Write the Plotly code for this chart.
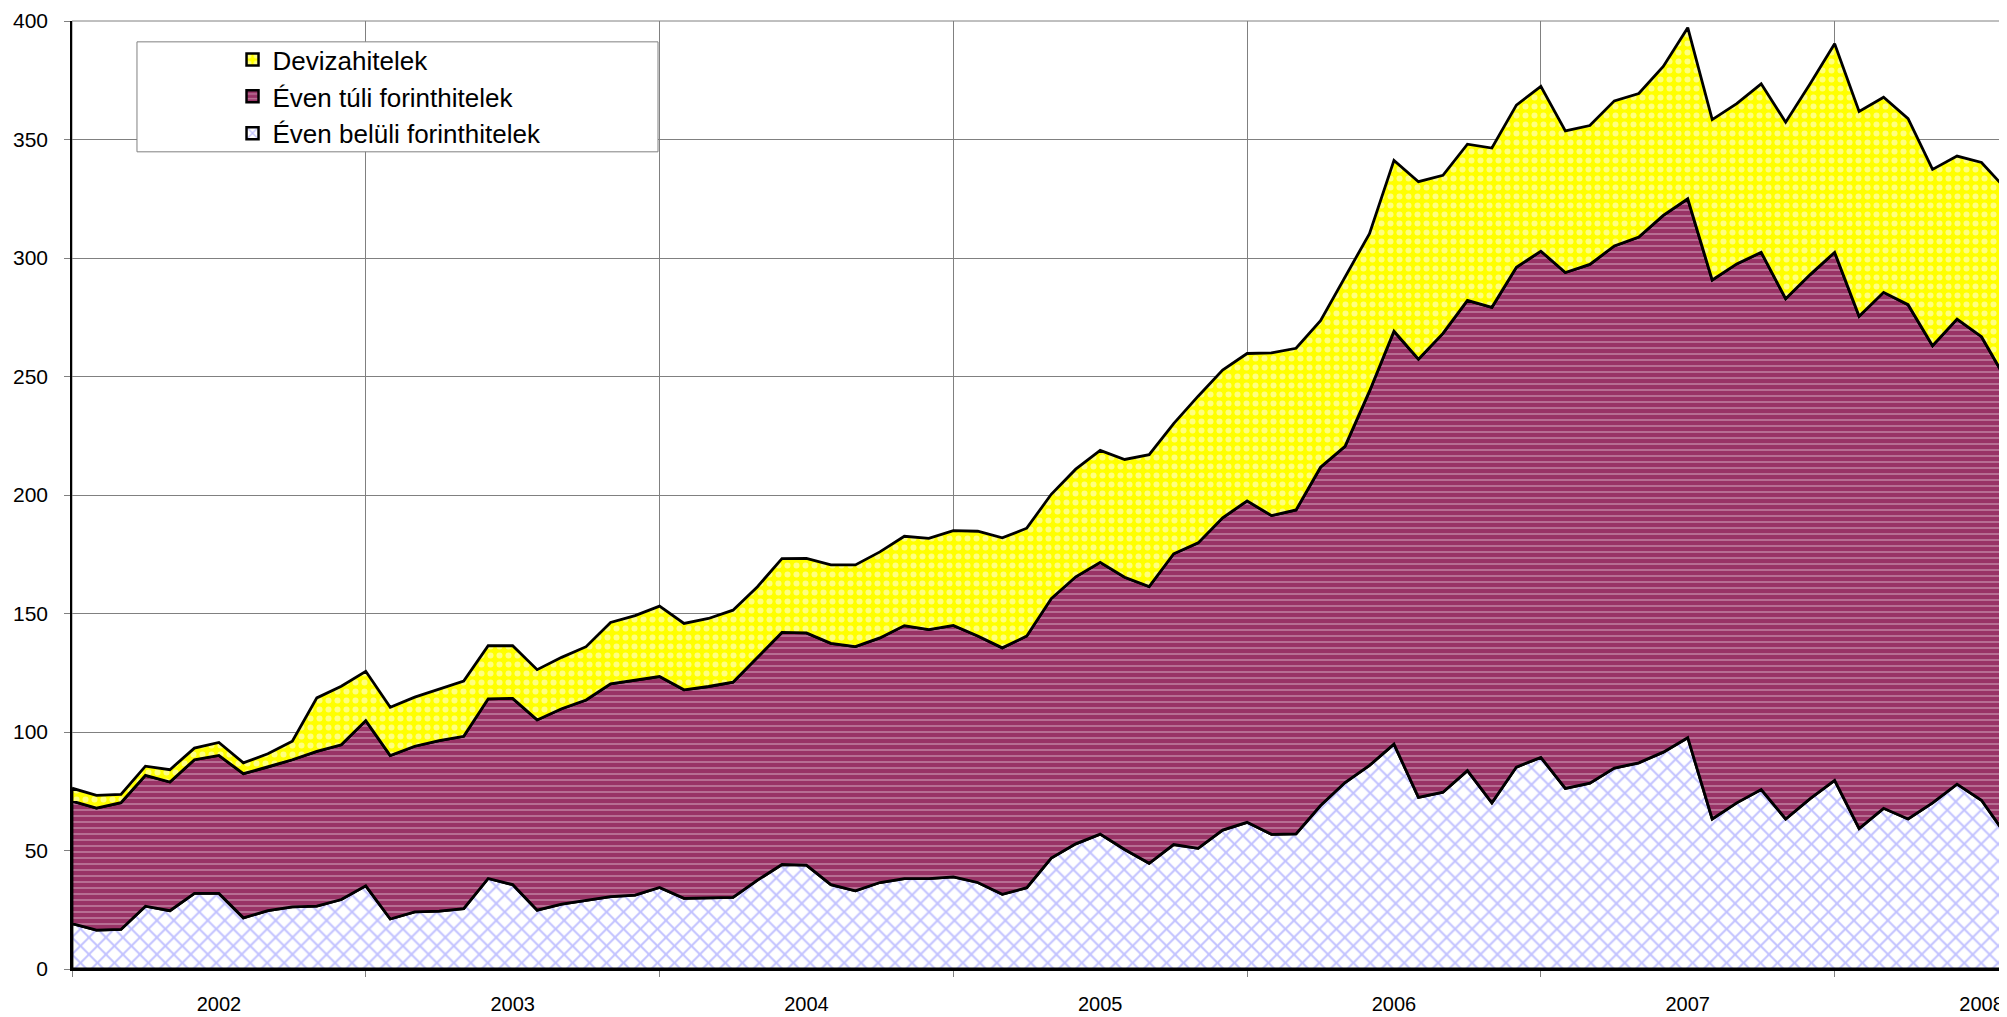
import plotly.graph_objects as go

# ---- data (monthly, 80 points) ----
months = list(range(80))
year_labels = ["2002", "2003", "2004", "2005", "2006", "2007", "2008"]
label_pos = [6, 18, 30, 42, 54, 66, 78]
grid_pos = [0, 12, 24, 36, 48, 60, 72]
y_ticks = [0, 50, 100, 150, 200, 250, 300, 350, 400]

even_beluli = [19.2, 16.4, 16.7, 26.5, 24.6, 31.9, 31.9, 21.6, 24.6, 26.2,
               26.5, 29.3, 35.1, 21.1, 24.1, 24.4, 25.5, 38.2, 35.6, 24.8,
               27.4, 28.8, 30.5, 31.2, 34.4, 29.8, 30.0, 30.2, 37.5, 44.1,
               43.8, 35.6, 33.0, 36.5, 38.1, 38.1, 38.9, 36.5, 31.5, 34.3,
               46.8, 52.8, 56.9, 50.4, 44.6, 52.5, 50.9, 58.6, 61.9, 56.8,
               57.0, 69.0, 78.7, 85.9, 94.9, 72.4, 74.6, 83.7, 70.1, 85.2,
               89.3, 76.2, 78.4, 84.8, 87.0, 91.5, 97.6, 63.3, 70.1, 75.7,
               63.3, 71.9, 79.6, 59.3, 67.8, 63.3, 70.1, 78.0, 71.2, 56.6]

even_tuli = [51.7, 51.5, 53.5, 55.2, 54.3, 56.4, 58.2, 60.8, 60.6, 62.1,
             65.3, 65.3, 69.7, 69.0, 69.9, 72.0, 72.7, 75.8, 78.6, 80.3,
             82.4, 84.7, 89.8, 90.5, 89.0, 88.0, 89.2, 90.8, 94.0, 97.9,
             98.0, 101.8, 103.0, 103.2, 106.8, 105.1, 106.1, 104.0, 104.0, 106.2,
             109.5, 112.7, 114.7, 114.9, 116.8, 122.7, 128.9, 131.8, 135.6, 134.5,
             136.7, 142.7, 141.8, 157.9, 174.2, 184.9, 193.6, 198.4, 209.1, 210.9,
             213.6, 217.7, 218.9, 220.3, 221.8, 226.5, 227.4, 227.4, 227.4, 226.7,
             219.5, 221.1, 222.8, 216.1, 217.7, 217.0, 192.9, 196.2, 195.6, 192.2]

deviza = [5.4, 5.4, 3.5, 3.9, 5.2, 4.9, 5.5, 4.6, 5.6, 7.8,
          22.6, 24.7, 20.8, 20.3, 20.7, 21.8, 23.3, 22.4, 22.2, 21.2,
          21.7, 22.5, 25.9, 27.4, 29.7, 28.0, 28.7, 30.4, 29.8, 31.2,
          31.5, 33.1, 34.5, 36.3, 37.7, 38.5, 40.0, 44.2, 46.4, 45.5,
          44.0, 45.4, 47.2, 49.7, 55.6, 54.9, 61.9, 62.3, 62.2, 68.7,
          68.2, 61.9, 71.3, 66.5, 72.1, 74.9, 66.7, 65.9, 67.2, 68.4,
          69.5, 59.7, 58.6, 61.2, 60.6, 62.8, 72.2, 67.7, 67.6, 71.1,
          74.5, 80.5, 88.0, 86.4, 82.3, 78.5, 74.4, 68.8, 73.5, 80.3]

names = ["Éven belüli forinthitelek", "Éven túli forinthitelek", "Devizahitelek"]
series = [even_beluli, even_tuli, deviza]
patterns = [
    dict(shape="x", bgcolor="#FFFFFF", fgcolor="#8585FF", size=12, solidity=0.3),
    dict(shape="-", bgcolor="#993366", fgcolor="#EBCFDD", size=6, solidity=0.25),
    dict(shape=".", bgcolor="#FFFF00", fgcolor="#FFFFFF", size=9, solidity=0.35),
]
base_colors = ["#FFFFFF", "#993366", "#FFFF00"]

FONT = "Liberation Sans, Arial, sans-serif"

fig = go.Figure()

lower = [0.0] * len(months)
for name, vals, pat, col in zip(names, series, patterns, base_colors):
    upper = [a + b for a, b in zip(lower, vals)]
    xs = months + months[::-1] + [months[0]]
    ys = upper + lower[::-1] + [upper[0]]
    fig.add_trace(go.Scatter(
        x=xs, y=ys, mode="lines", fill="toself",
        fillcolor=col, fillpattern=pat,
        line=dict(color="black", width=2.8),
        showlegend=False, hoverinfo="skip",
    ))
    lower = upper

# legend entries (top to bottom: Devizahitelek, Éven túli, Éven belüli)
for i in [2, 1, 0]:
    fig.add_trace(go.Bar(
        x=[None], y=[None], name=names[i], legendgroup=f"g{2 - i}",
        marker=dict(color=base_colors[i], pattern=patterns[i],
                    line=dict(color="black", width=2.5)),
    ))

# page body has an 8px margin; sizes/margins compensate so the plot area
# lands at x 72..2006, y 19..969 of the browser window
fig.update_layout(
    width=1999, height=1009,
    margin=dict(l=64, r=1, t=11, b=48),
    paper_bgcolor="white", plot_bgcolor="white",
    font=dict(family=FONT, size=20, color="black"),
    showlegend=True,
    legend=dict(
        x=0.083, y=0.984, xanchor="left", yanchor="top",
        bgcolor="rgba(0,0,0,0)", borderwidth=0,
        font=dict(family=FONT, size=26, color="black"),
        traceorder="grouped", tracegroupgap=0,
    ),
    shapes=[
        dict(type="rect", xref="paper", yref="paper", x0=0, x1=1, y0=0, y1=1,
             line=dict(color="#808080", width=1), layer="below"),
        dict(type="rect", xref="paper", yref="paper",
             x0=0.0336, x1=0.303, y0=0.862, y1=0.978,
             line=dict(color="#808080", width=1), fillcolor="white", layer="above"),
    ],
)

fig.update_xaxes(
    range=[0, 79], tickmode="array", tickvals=label_pos, ticktext=year_labels,
    ticks="", showgrid=False, zeroline=False,
    showline=True, linecolor="black", linewidth=2,
    ticklabelstandoff=16, ticklabeloverflow="allow",
    tickfont=dict(family=FONT, size=20),
    minor=dict(tickmode="array", tickvals=grid_pos, showgrid=True,
               gridcolor="#808080", gridwidth=1, ticks="outside",
               ticklen=6, tickcolor="#808080"),
)
fig.update_yaxes(
    range=[0, 400], tickmode="array", tickvals=y_ticks,
    showgrid=True, gridcolor="#808080", gridwidth=1, zeroline=False,
    showline=True, linecolor="black", linewidth=1.5,
    ticks="outside", ticklen=6, tickcolor="#808080",
    ticklabelstandoff=12, ticklabeloverflow="allow",
    tickfont=dict(family=FONT, size=21),
)

fig.write_html("out.html")
